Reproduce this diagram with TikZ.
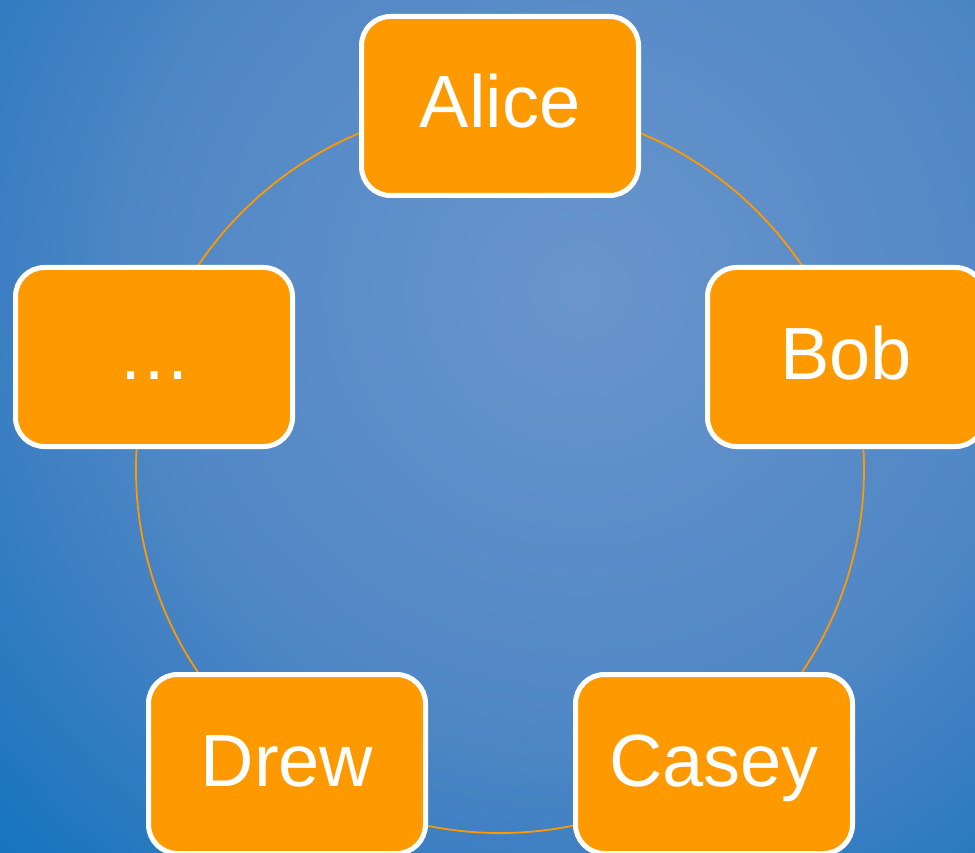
\documentclass[tikz,border=0pt]{standalone}
\usepackage{fontspec}
\setmainfont{Liberation Sans}
\definecolor{boxorange}{HTML}{FF9900}
\definecolor{bgcenter}{HTML}{6A95CC}
\definecolor{bgmid}{HTML}{4F87C5}
\definecolor{bgouter}{HTML}{3D7FC2}
\definecolor{bgedge}{HTML}{1474BE}
% soft blue backdrop, brightest slightly above and right of the middle
\pgfdeclareradialshading{backdrop}{\pgfpoint{0bp}{0bp}}{%
  color(0bp)=(bgcenter); color(13.5bp)=(bgmid); color(17.5bp)=(bgouter);
  color(25bp)=(bgedge); color(50bp)=(bgedge)}
\begin{document}
\begin{tikzpicture}[x=1pt,y=-1pt,
  member/.style={draw=white, line width=5pt, fill=boxorange,
    rounded corners=29pt, minimum width=277pt, minimum height=179pt,
    inner sep=0pt, text=white, font=\fontsize{74}{88}\selectfont,
    text height=54pt, text depth=10pt},
  ring/.style={draw=boxorange, line width=1.8pt}]
\useasboundingbox (0,0) rectangle (975,853);
\clip (0,0) rectangle (975,853);
\shade[shading=backdrop] (580,290) circle[radius=820];

% the ring that links everyone
\coordinate (hub) at (500,469);
\draw[ring] (hub) circle[radius=364];

% the people on the ring
\node[member] (alice) at (500,106) {Alice};
\node[member] (bob)   at (846,357) {Bob};
\node[member] (casey) at (714,764) {Casey};
\node[member] (drew)  at (287,764) {Drew};
\node[member] (more)  at (154,357) {…};
\end{tikzpicture}
\end{document}
